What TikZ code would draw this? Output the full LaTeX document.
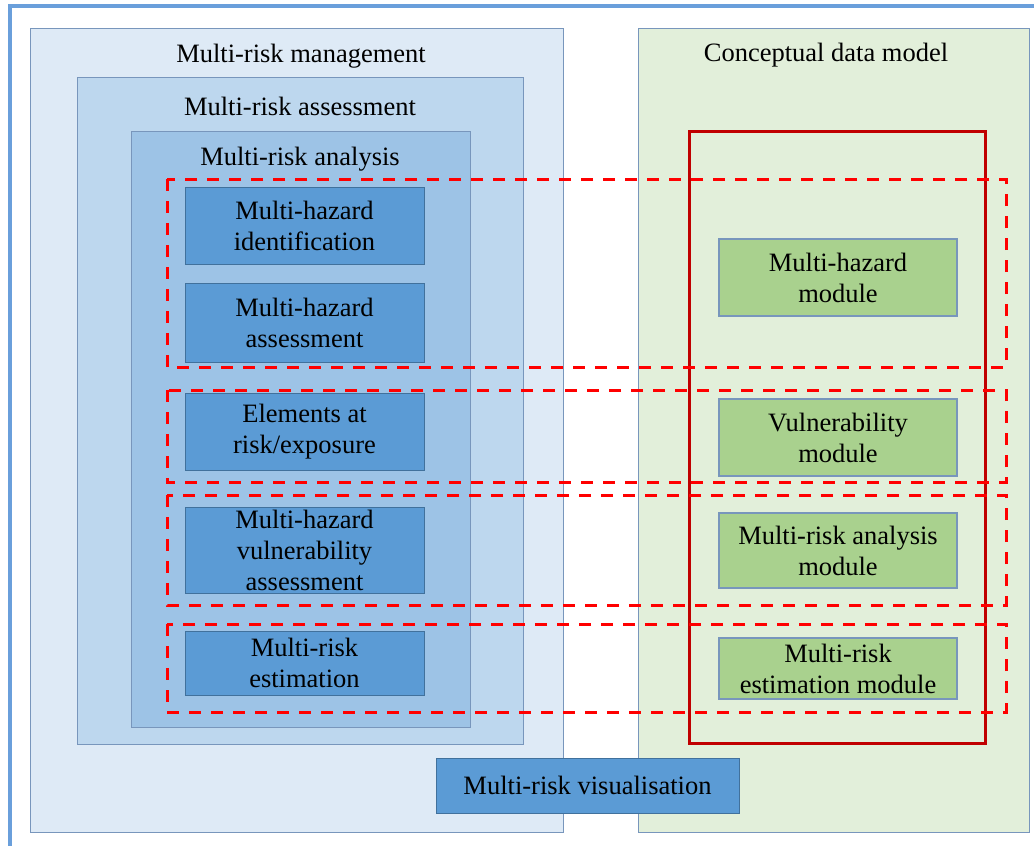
\documentclass[tikz,border=0pt]{standalone}
\usepackage{fontspec}
\setmainfont{Liberation Serif}
\usepackage{xcolor}
\usetikzlibrary{positioning}
\definecolor{RiskPale}{HTML}{DEEAF6}
\definecolor{RiskLight}{HTML}{BDD7EE}
\definecolor{RiskMid}{HTML}{9DC3E6}
\definecolor{RiskBox}{HTML}{5B9BD5}
\definecolor{RiskEdge}{HTML}{41719C}
\definecolor{ModelPale}{HTML}{E2EFDA}
\definecolor{ModelBox}{HTML}{A9D18E}
\definecolor{PaneEdge}{HTML}{7896BC}
\definecolor{FrameBlue}{HTML}{6A9FDB}
\definecolor{ModuleRed}{HTML}{C00000}
\definecolor{BandRed}{HTML}{FF0000}

\tikzset{
  pane/.style={draw=PaneEdge,line width=1.2pt,anchor=north west,inner sep=0pt},
  heading/.style={anchor=base,inner sep=0pt},
  stage/.style={draw=RiskEdge,fill=RiskBox,line width=1pt,minimum width=239pt,align=center,inner sep=0pt},
  module/.style={draw=PaneEdge,fill=ModelBox,line width=1.2pt,minimum width=238pt,align=center,inner sep=0pt},
  band/.style={draw=BandRed,line width=3pt,dash pattern=on 12pt off 10pt},
}

\begin{document}
\begin{tikzpicture}[x=1pt,y=-1pt,font=\fontsize{26.5}{31}\selectfont]
   \useasboundingbox (0,0) rectangle (1034,846);
   \draw[FrameBlue,line width=3.5pt] (10,900) -- (10,6) -- (1100,6);
   % nested assessment panes
   \node[pane,fill=RiskPale,minimum width=533pt,minimum height=804pt] (mgmt) at (30,28) {};
   \node[pane,fill=RiskLight,minimum width=446pt,minimum height=667pt] (assess) at (77,77) {};
   \node[pane,fill=RiskMid,minimum width=339pt,minimum height=596pt] (analysis) at (131,131) {};
   \node[pane,fill=ModelPale,minimum width=391pt,minimum height=804pt] (model) at (638,28) {};
   \node[heading] (mgmtT) at (301,62) {Multi-risk management};
   \node[heading] (assessT) at (300,115) {Multi-risk assessment};
   \node[heading] (analysisT) at (300,165) {Multi-risk analysis};
   \node[heading] (modelT) at (826,61) {Conceptual data model};
   % analysis steps
   \node[stage,minimum height=77pt] (hazId) at (304.5,225.5) {Multi-hazard\\identification};
   \node[stage,minimum height=79pt] (hazAs) at (304.5,322.5) {Multi-hazard\\assessment};
   \node[stage,minimum height=77pt] (expo) at (304.5,431.5) {Elements at\\risk/exposure};
   \node[stage,minimum height=86pt] (vuln) at (304.5,550) {Multi-hazard\\vulnerability\\assessment};
   \node[stage,minimum height=64pt] (estim) at (304.5,663) {Multi-risk\\estimation};
   % data model modules
   \draw[ModuleRed,line width=3pt] (689,131) rectangle (985,743);
   \node[module,minimum height=77pt] (hazMod) at (838,277.5) {Multi-hazard\\module};
   \node[module,minimum height=77pt] (vulnMod) at (838,437.5) {Vulnerability\\module};
   \node[module,minimum height=75pt] (anaMod) at (838,550.5) {Multi-risk analysis\\module};
   \node[module,minimum height=61pt] (estMod) at (838,668.5) {Multi-risk\\estimation module};
   % links between steps and modules
   \foreach \top/\bot in {179/367,390/482,495/605,624/712}
      \draw[band] (167,\top) rectangle (1006,\bot);
   \node[stage,minimum width=303pt,minimum height=55pt] (visual) at (587.5,785.5) {Multi-risk visualisation};
\end{tikzpicture}
\end{document}
